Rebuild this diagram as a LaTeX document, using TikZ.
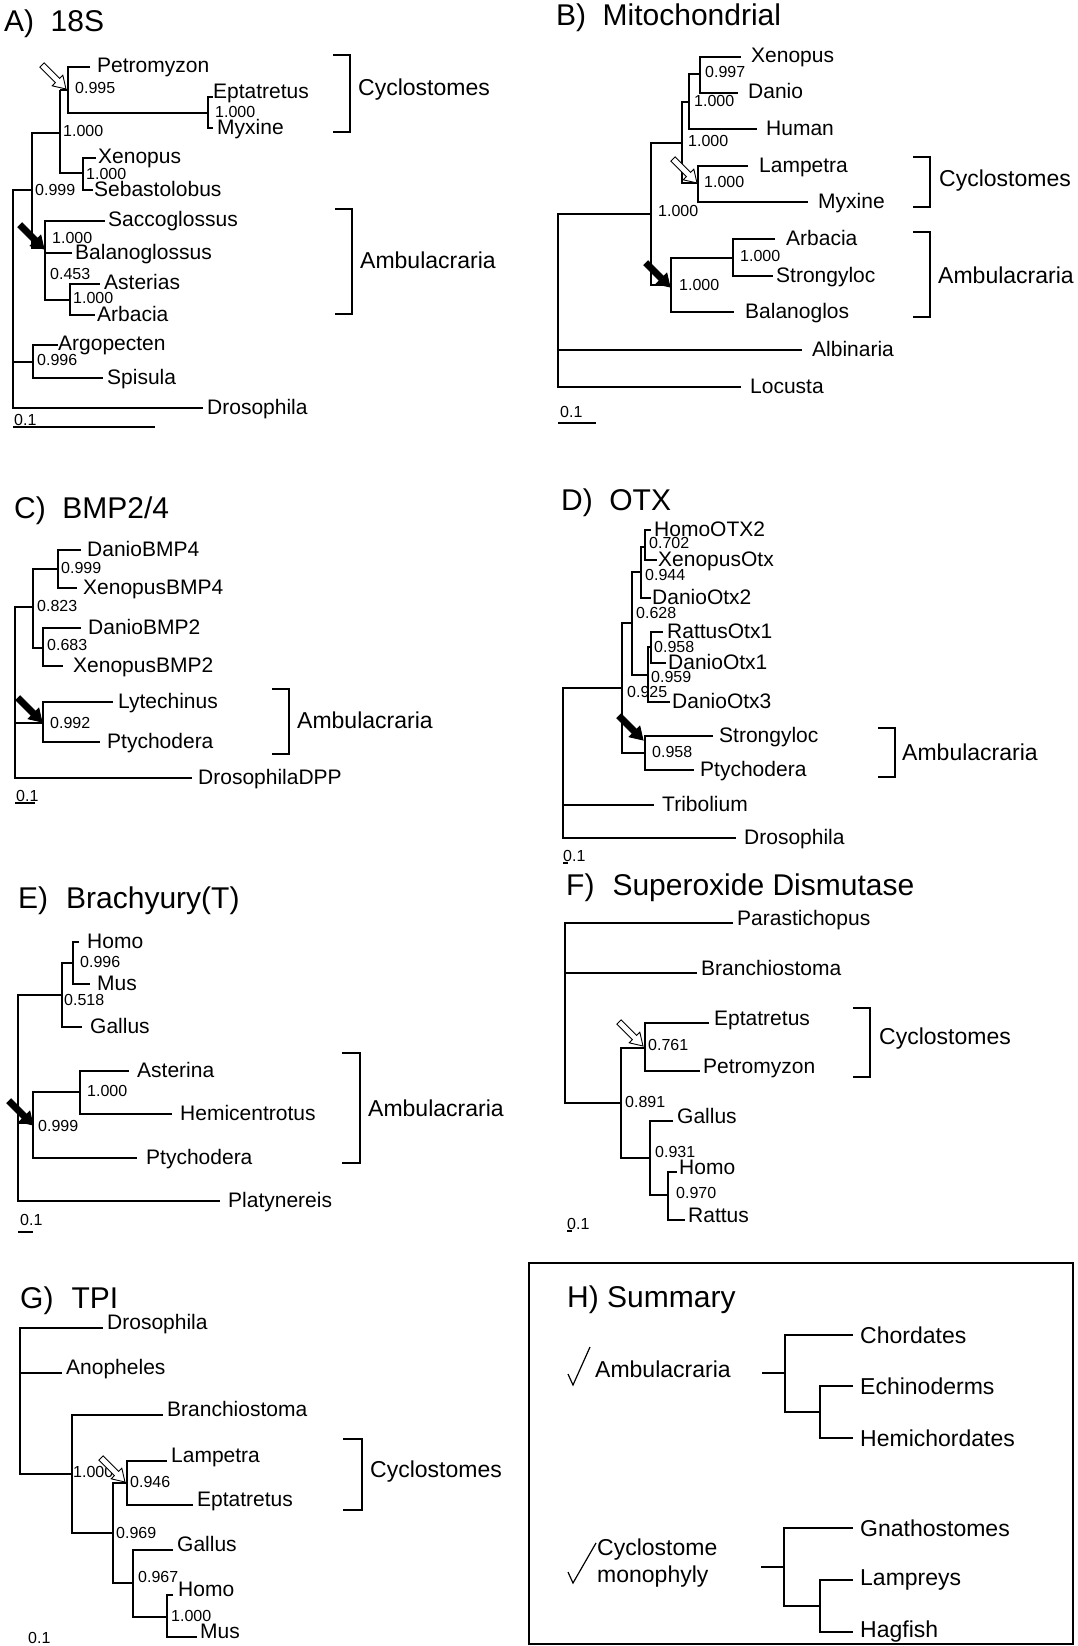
\documentclass[tikz,border=0pt]{standalone}
\usepackage{fontspec}
\setmainfont{Liberation Sans}
\tikzset{
  br/.style={line width=1.1pt},
  brk/.style={line width=1.4pt},
  tax/.style={font=\fontsize{21}{23}\selectfont,inner sep=0pt,anchor=base west},
  sup/.style={font=\fontsize{16}{18}\selectfont,inner sep=0pt,anchor=west},
  grp/.style={font=\fontsize{23}{26}\selectfont,inner sep=0pt,anchor=west},
  ttl/.style={font=\fontsize{30}{33}\selectfont,inner sep=0pt,anchor=base west},
  sumt/.style={font=\fontsize{23}{26}\selectfont,inner sep=0pt,anchor=west},
}
\newcommand\tx[4]{\node[tax] (#1) at (#2,#3) {#4};}
\newcommand\sv[4]{\node[sup] (#1) at (#2,#3) {#4};}
\newcommand\harrow[3]{%
  \begin{scope}[shift={(#1,#2)},rotate=-45]
    \draw[line width=0.9pt,fill=#3,line join=miter] (0,0) -- (-12,7.5) -- (-12,3) -- (-34,3) -- (-34,-3) -- (-12,-3) -- (-12,-7.5) -- cycle;
  \end{scope}}
\begin{document}
\begin{tikzpicture}[x=1pt,y=-1pt]
\useasboundingbox[fill=white] (0,0) rectangle (1078,1646);

%%%%%%%%%%%%%%%% A) 18S
\node[ttl] (tA) at (4,32) {A)\hspace{0.55em}18S};
\draw[br] (90,67) -- (68,67) -- (68,113) -- (208,113);
\draw[br] (213,97) -- (208,97) -- (208,128) -- (213,128);
\draw[br] (60,90) -- (68,90);
\draw[br] (60,90) -- (60,173) -- (83,173);
\draw[br] (96,158) -- (83,158) -- (83,190) -- (93,190);
\draw[br] (60,133) -- (32,133) -- (32,248) -- (45,248);
\draw[br] (105,221) -- (45,221) -- (45,300) -- (70,300);
\draw[line width=2.6pt] (45,248) -- (45,276);
\draw[line width=2.2pt] (45,253) -- (72,253);
\draw[br] (100,284) -- (70,284) -- (70,315) -- (95,315);
\draw[br] (32,190) -- (13,190) -- (13,408) -- (203,408);
\draw[br] (13,362) -- (33,362);
\draw[br] (58,345) -- (33,345) -- (33,378) -- (103,378);
\tx{aPet}{97}{72}{Petromyzon}
\tx{aEpt}{213}{98}{Eptatretus}
\tx{aMyx}{217}{134}{Myxine}
\tx{aXen}{98}{163}{Xenopus}
\tx{aSeb}{94}{196}{Sebastolobus}
\tx{aSac}{108}{226}{Saccoglossus}
\tx{aBal}{75}{259}{Balanoglossus}
\tx{aAst}{104}{289}{Asterias}
\tx{aArb}{97}{321}{Arbacia}
\tx{aArg}{58}{350}{Argopecten}
\tx{aSpi}{107}{384}{Spisula}
\tx{aDro}{207}{414}{Drosophila}
\sv{as1}{75}{88}{0.995}
\sv{as2}{215}{112}{1.000}
\sv{as3}{63}{131}{1.000}
\sv{as4}{86}{174}{1.000}
\sv{as5}{35}{190}{0.999}
\sv{as6}{52}{238}{1.000}
\sv{as7}{50}{274}{0.453}
\sv{as8}{73}{298}{1.000}
\sv{as9}{37}{360}{0.996}
\sv{asc}{14}{420}{0.1}
\draw[br] (13,427) -- (155,427);
\draw[brk] (333,55) -- (350,55) -- (350,132) -- (333,132);
\node[grp] (aCyc) at (358,90) {Cyclostomes};
\draw[brk] (335,209) -- (352,209) -- (352,314) -- (335,314);
\node[grp] (aAmb) at (360,260) {Ambulacraria};
\harrow{66}{89}{white}
\harrow{44}{249}{black}

%%%%%%%%%%%%%%%% B) Mitochondrial
\node[ttl] (tB) at (556,26) {B)\hspace{0.55em}Mitochondrial};
\draw[br] (741,57) -- (700,57) -- (700,93) -- (738,93);
\draw[br] (700,74) -- (689,74) -- (689,129) -- (757,129);
\draw[br] (689,102) -- (682,102) -- (682,183) -- (698,183);
\draw[br] (748,166) -- (698,166) -- (698,202) -- (808,202);
\draw[br] (682,143) -- (651,143) -- (651,285) -- (671,285);
\draw[br] (733,258) -- (671,258) -- (671,312) -- (734,312);
\draw[br] (775,239) -- (733,239) -- (733,276) -- (773,276);
\draw[br] (651,214) -- (558,214) -- (558,387) -- (741,387);
\draw[br] (558,350) -- (802,350);
\tx{bXen}{751}{63}{Xenopus}
\tx{bDan}{748}{99}{Danio}
\tx{bHum}{766}{135}{Human}
\tx{bLam}{759}{172}{Lampetra}
\tx{bMyx}{818}{208}{Myxine}
\tx{bArb}{786}{245}{Arbacia}
\tx{bStr}{776}{282}{Strongyloc}
\tx{bBal}{745}{318}{Balanoglos}
\tx{bAlb}{812}{356}{Albinaria}
\tx{bLoc}{750}{393}{Locusta}
\sv{bs1}{705}{72}{0.997}
\sv{bs2}{694}{101}{1.000}
\sv{bs3}{688}{141}{1.000}
\sv{bs4}{704}{182}{1.000}
\sv{bs5}{658}{211}{1.000}
\sv{bs6}{740}{256}{1.000}
\sv{bs7}{679}{285}{1.000}
\sv{bsc}{560}{412}{0.1}
\draw[br] (558,423) -- (596,423);
\draw[brk] (913,157) -- (930,157) -- (930,207) -- (913,207);
\node[grp] (bCyc) at (939,181) {Cyclostomes};
\draw[brk] (913,232) -- (930,232) -- (930,317) -- (913,317);
\node[grp] (bAmb) at (938,275) {Ambulacraria};
\harrow{697}{183}{white}
\harrow{670}{287}{black}

%%%%%%%%%%%%%%%% C) BMP2/4
\node[ttl] (tC) at (14,518) {C)\hspace{0.55em}BMP2/4};
\draw[br] (81,550) -- (58,550) -- (58,588) -- (77,588);
\draw[br] (58,569) -- (33,569) -- (33,648) -- (43,648);
\draw[br] (81,628) -- (43,628) -- (43,666) -- (63,666);
\draw[br] (33,607) -- (15,607) -- (15,778) -- (192,778);
\draw[br] (15,723) -- (43,723);
\draw[br] (113,702) -- (43,702) -- (43,742) -- (100,742);
\tx{cDB4}{87}{556}{DanioBMP4}
\tx{cXB4}{83}{594}{XenopusBMP4}
\tx{cDB2}{88}{634}{DanioBMP2}
\tx{cXB2}{73}{672}{XenopusBMP2}
\tx{cLyt}{118}{708}{Lytechinus}
\tx{cPty}{107}{748}{Ptychodera}
\tx{cDro}{198}{784}{DrosophilaDPP}
\sv{cs1}{61}{568}{0.999}
\sv{cs2}{37}{606}{0.823}
\sv{cs3}{47}{645}{0.683}
\sv{cs4}{50}{723}{0.992}
\sv{csc}{16}{796}{0.1}
\draw[br] (15,803) -- (35,803);
\draw[brk] (272,689) -- (289,689) -- (289,754) -- (272,754);
\node[grp] (cAmb) at (297,720) {Ambulacraria};
\harrow{42}{722}{black}

%%%%%%%%%%%%%%%% D) OTX
\node[ttl] (tD) at (561,510) {D)\hspace{0.55em}OTX};
\draw[br] (651,530) -- (645,530) -- (645,560) -- (657,560);
\draw[br] (645,547) -- (641,547) -- (641,598) -- (651,598);
\draw[br] (641,572) -- (632,572) -- (632,675) -- (648,675);
\draw[br] (663,632) -- (651,632) -- (651,663) -- (666,663);
\draw[br] (651,647) -- (648,647) -- (648,702) -- (670,702);
\draw[br] (632,623) -- (622,623) -- (622,753) -- (645,753);
\draw[br] (713,736) -- (645,736) -- (645,770) -- (694,770);
\draw[br] (622,688) -- (563,688) -- (563,838) -- (736,838);
\draw[br] (563,805) -- (654,805);
\tx{dHO2}{654}{536}{HomoOTX2}
\tx{dXO}{658}{566}{XenopusOtx}
\tx{dDO2}{652}{604}{DanioOtx2}
\tx{dRO1}{667}{638}{RattusOtx1}
\tx{dDO1}{668}{669}{DanioOtx1}
\tx{dDO3}{672}{708}{DanioOtx3}
\tx{dStr}{719}{742}{Strongyloc}
\tx{dPty}{700}{776}{Ptychodera}
\tx{dTri}{662}{811}{Tribolium}
\tx{dDro}{744}{844}{Drosophila}
\sv{ds1}{649}{543}{0.702}
\sv{ds2}{645}{575}{0.944}
\sv{ds3}{636}{613}{0.628}
\sv{ds4}{654}{647}{0.958}
\sv{ds5}{651}{677}{0.959}
\sv{ds6}{627}{692}{0.925}
\sv{ds7}{652}{752}{0.958}
\sv{dsc}{563}{856}{0.1}
\draw[br] (563,863) -- (568,863);
\draw[brk] (878,728) -- (895,728) -- (895,777) -- (878,777);
\node[grp] (dAmb) at (902,752) {Ambulacraria};
\harrow{643}{740}{black}

%%%%%%%%%%%%%%%% E) Brachyury(T)
\node[ttl] (tE) at (18,908) {E)\hspace{0.6em}Brachyury(T)};
\draw[br] (79,942) -- (73,942) -- (73,984) -- (90,984);
\draw[br] (73,963) -- (62,963) -- (62,1027) -- (82,1027);
\draw[br] (62,995) -- (18,995) -- (18,1201) -- (220,1201);
\draw[br] (18,1123) -- (33,1123);
\draw[br] (80,1092) -- (33,1092) -- (33,1158) -- (137,1158);
\draw[br] (129,1071) -- (80,1071) -- (80,1114) -- (172,1114);
\tx{eHom}{87}{948}{Homo}
\tx{eMus}{97}{990}{Mus}
\tx{eGal}{90}{1033}{Gallus}
\tx{eAst}{137}{1077}{Asterina}
\tx{eHem}{180}{1120}{Hemicentrotus}
\tx{ePty}{146}{1164}{Ptychodera}
\tx{ePla}{228}{1207}{Platynereis}
\sv{es1}{80}{962}{0.996}
\sv{es2}{64}{1000}{0.518}
\sv{es3}{87}{1091}{1.000}
\sv{es4}{38}{1126}{0.999}
\sv{esc}{20}{1220}{0.1}
\draw[br] (18,1232) -- (33,1232);
\draw[brk] (342,1053) -- (360,1053) -- (360,1163) -- (342,1163);
\node[grp] (eAmb) at (368,1108) {Ambulacraria};
\harrow{33}{1125}{black}

%%%%%%%%%%%%%%%% F) Superoxide Dismutase
\node[ttl] (tF) at (566,895) {F)\hspace{0.6em}Superoxide Dismutase};
\draw[br] (733,923) -- (565,923) -- (565,1103) -- (621,1103);
\draw[br] (565,973) -- (697,973);
\draw[br] (645,1048) -- (621,1048) -- (621,1158) -- (650,1158);
\draw[br] (709,1023) -- (645,1023) -- (645,1071) -- (700,1071);
\draw[br] (673,1121) -- (650,1121) -- (650,1195) -- (668,1195);
\draw[br] (677,1172) -- (668,1172) -- (668,1220) -- (685,1220);
\begin{scope}[tax/.append style={yshift=4pt}]
\tx{fPar}{737}{929}{Parastichopus}
\tx{fBra}{701}{979}{Branchiostoma}
\tx{fEpt}{714}{1029}{Eptatretus}
\tx{fPet}{703}{1077}{Petromyzon}
\tx{fGal}{677}{1127}{Gallus}
\tx{fHom}{679}{1178}{Homo}
\tx{fRat}{688}{1226}{Rattus}
\end{scope}
\sv{fs1}{648}{1045}{0.761}
\sv{fs2}{625}{1102}{0.891}
\sv{fs3}{655}{1152}{0.931}
\sv{fs4}{676}{1193}{0.970}
\sv{fsc}{567}{1224}{0.1}
\draw[br] (567,1231) -- (572,1231);
\draw[brk] (853,1008) -- (870,1008) -- (870,1077) -- (853,1077);
\node[grp] (fCyc) at (879,1039) {Cyclostomes};
\harrow{643}{1046}{white}

%%%%%%%%%%%%%%%% G) TPI
\node[ttl] (tG) at (20,1308) {G)\hspace{0.6em}TPI};
\draw[br] (103,1328) -- (20,1328) -- (20,1474) -- (72,1474);
\draw[br] (20,1373) -- (62,1373);
\draw[br] (163,1415) -- (72,1415) -- (72,1533) -- (113,1533);
\draw[br] (127,1483) -- (113,1483) -- (113,1583) -- (133,1583);
\draw[br] (167,1461) -- (127,1461) -- (127,1505) -- (193,1505);
\draw[br] (173,1550) -- (133,1550) -- (133,1617) -- (167,1617);
\draw[br] (173,1595) -- (167,1595) -- (167,1637) -- (197,1637);
\begin{scope}[tax/.append style={yshift=5pt}]
\tx{gDro}{107}{1334}{Drosophila}
\tx{gAno}{66}{1379}{Anopheles}
\tx{gBra}{167}{1421}{Branchiostoma}
\tx{gLam}{171}{1467}{Lampetra}
\tx{gEpt}{197}{1511}{Eptatretus}
\tx{gGal}{177}{1556}{Gallus}
\tx{gHom}{178}{1601}{Homo}
\tx{gMus}{200}{1643}{Mus}
\end{scope}
\sv{gs1}{73}{1472}{1.000}
\sv{gs2}{130}{1482}{0.946}
\sv{gs3}{116}{1533}{0.969}
\sv{gs4}{138}{1577}{0.967}
\sv{gs5}{171}{1616}{1.000}
\sv{gsc}{28}{1638}{0.1}
\draw[brk] (343,1439) -- (362,1439) -- (362,1510) -- (343,1510);
\node[grp] (gCyc) at (370,1472) {Cyclostomes};
\harrow{125}{1482}{white}

%%%%%%%%%%%%%%%% H) Summary
\draw[line width=2.6pt] (529,1263) rectangle (1073,1644);
\node[ttl] (tH) at (567,1307) {H) Summary};
\draw[line width=1.2pt] (568,1374) -- (573,1385) -- (590,1347);
\node[sumt] (hAmb) at (595,1369) {Ambulacraria};
\draw[line width=1.4pt] (762,1373) -- (785,1373);
\draw[br] (853,1335) -- (785,1335) -- (785,1412) -- (820,1412);
\draw[br] (853,1386) -- (820,1386) -- (820,1438) -- (853,1438);
\node[sumt] (hCho) at (860,1335) {Chordates};
\node[sumt] (hEch) at (860,1386) {Echinoderms};
\node[sumt] (hHem) at (860,1438) {Hemichordates};
\draw[line width=1.2pt] (568,1572) -- (573,1583) -- (596,1543);
\node[sumt] (hCyc) at (597,1550) {Cyclostome};
\node[sumt] (hMon) at (597,1577) {monophyly};
\draw[line width=1.4pt] (761,1567) -- (784,1567);
\draw[br] (853,1528) -- (784,1528) -- (784,1606) -- (820,1606);
\draw[br] (853,1580) -- (820,1580) -- (820,1632) -- (853,1632);
\node[sumt] (hGna) at (860,1528) {Gnathostomes};
\node[sumt] (hLam) at (860,1580) {Lampreys};
\node[sumt] (hHag) at (860,1632) {Hagfish};
\end{tikzpicture}
\end{document}
